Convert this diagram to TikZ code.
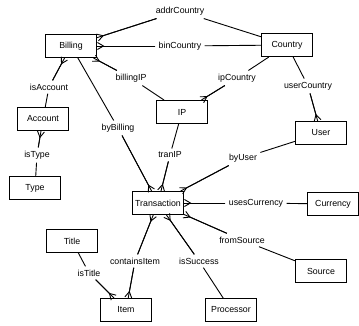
\documentclass[tikz,border=0pt]{standalone}
\usepackage{fontspec}
\setmainfont{Liberation Sans}
\usetikzlibrary{arrows.meta}

\begin{document}
\begin{tikzpicture}[x=1pt, y=-1pt,
	ent/.style={draw, line width=1pt, minimum width=51pt, minimum height=23pt, inner sep=2pt},
	rel/.style={inner sep=3pt},
	many/.style={postaction={draw, -{Straight Barb[reversed, length=6pt, width=7pt]}}},
	every path/.style={line width=0.9pt},
	font=\fontsize{8.8}{10}\selectfont]
	\useasboundingbox (0,0) rectangle (359,325);

	% entities
	\node[ent] (Billing) at (71,46) {Billing};
	\node[ent] (Country) at (287,45) {Country};
	\node[ent] (IP) at (182,112) {IP};
	\node[ent] (User) at (321,133) {User};
	\node[ent] (Account) at (43,119) {Account};
	\node[ent] (Type) at (35,188) {Type};
	\node[ent] (Transaction) at (158,203) {Transaction};
	\node[ent] (Currency) at (333,204) {Currency};
	\node[ent] (Source) at (321,271) {Source};
	\node[ent] (Title) at (72,241) {Title};
	\node[ent] (Item) at (126,310) {Item};
	\node[ent] (Processor) at (231,310) {Processor};

	% relations
	\node[rel] (addrCountry) at (180,11) {addrCountry};
	\node[rel] (binCountry) at (180,46) {binCountry};
	\node[rel] (billingIP) at (131,78) {billingIP};
	\node[rel] (ipCountry) at (237,78) {ipCountry};
	\node[rel] (userCountry) at (308,86) {userCountry};
	\node[rel] (isAccount) at (49,87) {isAccount};
	\node[rel] (isType) at (37,155) {isType};
	\node[rel] (byBilling) at (118,128) {byBilling};
	\node[rel] (tranIP) at (170,155) {tranIP};
	\node[rel] (byUser) at (243,158) {byUser};
	\node[rel] (usesCurrency) at (256,203) {usesCurrency};
	\node[rel] (fromSource) at (242,240) {fromSource};
	\node[rel] (isSuccess) at (199,261) {isSuccess};
	\node[rel] (containsItem) at (135,261) {containsItem};
	\node[rel] (isTitle) at (89,273) {isTitle};

	% connectors
	\draw[many] (addrCountry) -- (Billing);
	\draw (addrCountry) -- (Country);
	\draw[many] (binCountry) -- (Billing);
	\draw (binCountry) -- (Country);
	\draw[many] (billingIP) -- (Billing);
	\draw (billingIP) -- (IP);
	\draw[many] (ipCountry) -- (IP);
	\draw (ipCountry) -- (Country);
	\draw (userCountry) -- (Country);
	\draw[many] (userCountry) -- (User);
	\draw[many] (isAccount) -- (Billing);
	\draw (isAccount) -- (Account);
	\draw[many] (isType) -- (Account);
	\draw (isType) -- (Type);
	\draw (byBilling) -- (Billing);
	\draw[many] (byBilling) -- (Transaction);
	\draw (tranIP) -- (IP);
	\draw[many] (tranIP) -- (Transaction);
	\draw (byUser) -- (User);
	\draw[many] (byUser) -- (Transaction);
	\draw[many] (usesCurrency) -- (Transaction);
	\draw (usesCurrency) -- (Currency);
	\draw[many] (fromSource) -- (Transaction);
	\draw (fromSource) -- (Source);
	\draw[many] (isSuccess) -- (Transaction);
	\draw (isSuccess) -- (Processor);
	\draw[many] (containsItem) -- (Transaction);
	\draw[many] (containsItem) -- (Item);
	\draw (isTitle) -- (Title);
	\draw[many] (isTitle) -- (Item);
\end{tikzpicture}
\end{document}
